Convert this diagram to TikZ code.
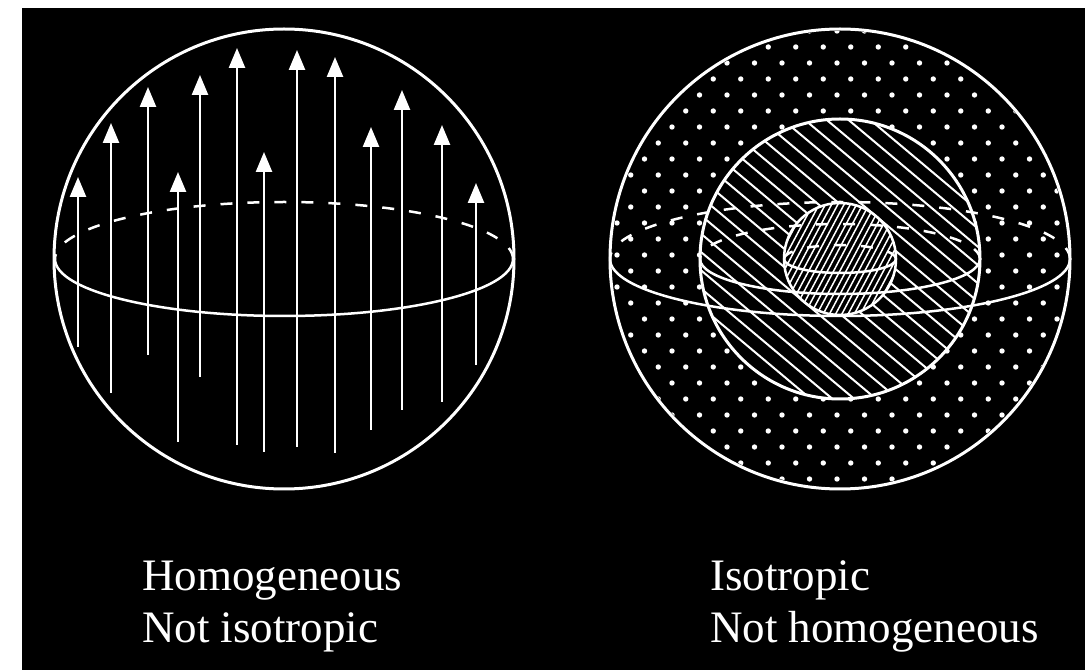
\documentclass[tikz,border=0pt]{standalone}
\usepackage{fontspec}
\setmainfont{Liberation Serif}
\usetikzlibrary{arrows.meta}

\begin{document}
\begin{tikzpicture}[x=1pt,y=1pt,
  shell/.style={draw=white,line width=3pt},
  rim/.style={draw=white,line width=2.5pt},
  backhalf/.style={draw=white,line width=2.5pt,dash pattern=on 12pt off 15pt},
  vec/.style={draw=white,line width=2.5pt,-{Triangle[width=16pt,length=20pt]}},
  hatch/.style={draw=white,line width=2pt},
  finehatch/.style={draw=white,line width=1.5pt},
  caption/.style={text=white,font=\fontsize{45}{52}\selectfont,anchor=base west,inner sep=0pt}
]
\useasboundingbox (0,0) rectangle (1085,670);
\fill[white] (0,0) rectangle (1085,670);
\fill[black] (22,0) rectangle (1085,662);

% left sphere: one direction everywhere
\coordinate (L) at (284,411);
\foreach \x/\t/\b in {78/493/323, 111/547/277, 148/583/315, 178/498/228,
    200/595/293, 237/622/225, 264/518/218, 297/620/223, 335/613/217,
    371/543/240, 402/580/260, 442/545/268, 476/487/305}
  \draw[vec] (\x,\b) -- (\x,\t);
\draw[shell] (L) circle (230);
\draw[backhalf] (L) ++(229,0) arc[start angle=0,end angle=180,x radius=229,y radius=57];
\draw[rim] (L) ++(-229,0) arc[start angle=180,end angle=360,x radius=229,y radius=57];

% right sphere: shells
\coordinate (R) at (840,411);
\begin{scope}
  \clip (R) circle (228);
  \foreach \j in {-14,...,14}
    \foreach \i in {-9,...,9}
      \fill[white] ({837+27.5*\i+13.75*mod(\j,2)},{415+16*\j}) circle (2.7);
\end{scope}
\fill[black] (R) circle (140);
\begin{scope}
  \clip (R) circle (140);
  \begin{scope}[shift={(840,411)},rotate=-40]
    \foreach \k in {-11,...,11}
      \draw[hatch] (-160,14*\k) -- (160,14*\k);
  \end{scope}
\end{scope}
\fill[black] (R) circle (56);
\begin{scope}
  \clip (R) circle (56);
  \begin{scope}[shift={(840,411)},rotate=62]
    \foreach \k in {-11,...,11}
      \draw[finehatch] (-70,5.5*\k) -- (70,5.5*\k);
  \end{scope}
\end{scope}
\draw[shell] (R) circle (230);
\draw[shell] (R) circle (140);
\draw[rim] (R) circle (56);
\foreach \a/\b in {230/57, 140/35, 56/14} {
  \draw[backhalf] (R) ++(\a,0) arc[start angle=0,end angle=180,x radius=\a,y radius=\b];
  \draw[rim] (R) ++(-\a,0) arc[start angle=180,end angle=360,x radius=\a,y radius=\b];
}

% captions
\node[caption] (homog) at (142,80) {Homogeneous};
\node[caption] (notiso) at (142,28) {Not isotropic};
\node[caption] (iso) at (710,80) {Isotropic};
\node[caption] (nothomog) at (710,28) {Not homogeneous};
\end{tikzpicture}
\end{document}
